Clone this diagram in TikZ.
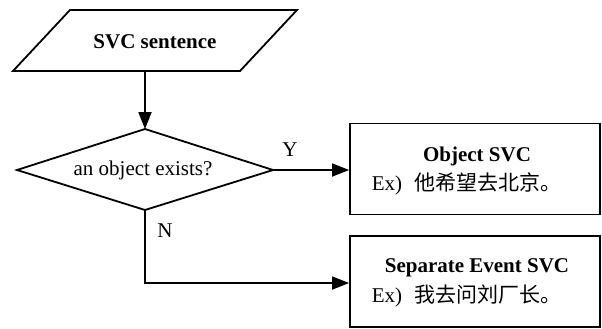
\documentclass[tikz,border=0pt]{standalone}
\usepackage{fontspec}
\setmainfont{Liberation Serif}
\newfontfamily\cjk{Noto Sans CJK SC}
\usetikzlibrary{arrows.meta,calc}
\begin{document}
\begin{tikzpicture}[x=1pt,y=-1pt,
  line width=1.8pt,
  txt/.style={inner sep=0pt,font=\fontsize{21}{25}\selectfont},
  bold/.style={txt,font=\fontsize{21}{25}\selectfont\bfseries},
  outbox/.style={draw,rectangle,inner sep=0pt,minimum width=250pt,minimum height=91pt},
  flow/.style={-{Triangle[length=17pt,width=13pt]}}]
\useasboundingbox (0,0) rectangle (602,329);

% input parallelogram
\draw (70,10) -- (297,10) -- (240,71) -- (13,71) -- cycle;
\node[bold] (svc) at (155,42) {SVC sentence};
\coordinate (svcbot) at (145,71);

% decision diamond
\coordinate (dtop) at (145,129);
\coordinate (dright) at (273,170);
\coordinate (dbot) at (145,210);
\coordinate (dleft) at (17,170);
\draw (dtop) -- (dright) -- (dbot) -- (dleft) -- cycle;
\node[txt] (q) at (143,170) {an object exists?};

% result boxes
\node[outbox] (obj) at (475,169) {};
\node[bold] (objt) at (477,156) {Object SVC};
\node[txt,anchor=west] (objx) at (371,184) {Ex)\hspace{0.6em}{\cjk 他希望去北京。}};

\node[outbox] (sep) at (475,281.5) {};
\node[bold] (sept) at (477,268) {Separate Event SVC};
\node[txt,anchor=west] (sepx) at (371,296) {Ex)\hspace{0.6em}{\cjk 我去问刘厂长。}};

% connectors
\draw[flow] (svcbot) -- (dtop);
\draw[flow] (dright) -- (dright -| obj.west);
\node[txt] (yes) at (290,150) {Y};
\coordinate (nturn) at (145,283);
\draw[flow] (dbot) -- (nturn) -- (nturn -| sep.west);
\node[txt] (no) at (165,231) {N};
\end{tikzpicture}
\end{document}
